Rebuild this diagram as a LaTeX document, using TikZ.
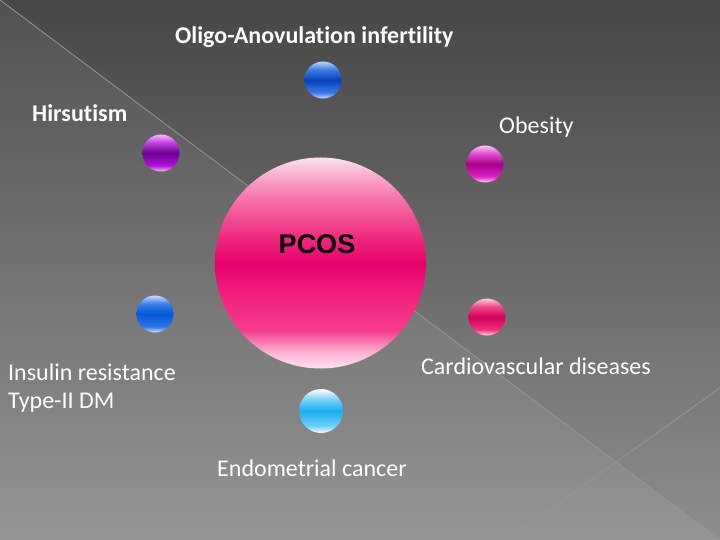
\documentclass[tikz,border=0pt]{standalone}
\usepackage{fontspec}
\setmainfont{Carlito}[Ligatures=NoCommon]
\newfontfamily\pcosfont{Liberation Sans}
\usepackage{tikz}
\usetikzlibrary{positioning}

\definecolor{bgTop}{HTML}{474747}
\definecolor{bgBot}{HTML}{8E8E8E}
\definecolor{lineC}{HTML}{959595}

% name, top, upper, mid, lower, bottom
\newcommand{\ballshade}[6]{%
  \pgfdeclareverticalshading{#1}{100bp}{color(0bp)=(#6); color(25bp)=(#6);
    color(33bp)=(#5); color(50bp)=(#4); color(64bp)=(#3); color(75bp)=(#2);
    color(100bp)=(#2)}}

\definecolor{obT}{HTML}{B8D4FF}\definecolor{obU}{HTML}{3D7BE6}\definecolor{obM}{HTML}{0840B8}
\definecolor{obL}{HTML}{3A78E8}\definecolor{obB}{HTML}{C0DCFF}
\definecolor{huT}{HTML}{F4B8FF}\definecolor{huU}{HTML}{C040E0}\definecolor{huM}{HTML}{6A0090}
\definecolor{huL}{HTML}{B010D8}\definecolor{huB}{HTML}{F8C0FF}
\definecolor{esT}{HTML}{FFC0F4}\definecolor{esU}{HTML}{E050D0}\definecolor{esM}{HTML}{A8008A}
\definecolor{esL}{HTML}{E020C8}\definecolor{esB}{HTML}{FFD0F8}
\definecolor{cdT}{HTML}{FFC8DC}\definecolor{cdU}{HTML}{F04888}\definecolor{cdM}{HTML}{D00058}
\definecolor{cdL}{HTML}{F03080}\definecolor{cdB}{HTML}{FFD8E8}
\definecolor{irT}{HTML}{C8DCFF}\definecolor{irU}{HTML}{3C80EA}\definecolor{irM}{HTML}{0058D8}
\definecolor{irL}{HTML}{2F76E6}\definecolor{irB}{HTML}{D0E4FF}
\definecolor{ecT}{HTML}{FFFFFF}\definecolor{ecU}{HTML}{80D4FA}\definecolor{ecM}{HTML}{18ACEF}
\definecolor{ecL}{HTML}{70D0FA}\definecolor{ecB}{HTML}{FFFFFF}

\ballshade{oligoshade}{obT}{obU}{obM}{obL}{obB}
\ballshade{hirsshade}{huT}{huU}{huM}{huL}{huB}
\ballshade{obesshade}{esT}{esU}{esM}{esL}{esB}
\ballshade{cardshade}{cdT}{cdU}{cdM}{cdL}{cdB}
\ballshade{insushade}{irT}{irU}{irM}{irL}{irB}
\ballshade{endoshade}{ecT}{ecU}{ecM}{ecL}{ecB}

\definecolor{pc0}{HTML}{FFE4F0}\definecolor{pc1}{HTML}{FBB0D2}\definecolor{pc2}{HTML}{F53C8C}
\definecolor{pc3}{HTML}{F3237F}\definecolor{pc4}{HTML}{E6006A}\definecolor{pc5}{HTML}{EE2A80}
\definecolor{pc6}{HTML}{F4609E}\definecolor{pc7}{HTML}{F898C2}\definecolor{pc8}{HTML}{FDE2EE}
\pgfdeclareverticalshading{pcosshade}{100bp}{color(0bp)=(pc0); color(25bp)=(pc0);
  color(29bp)=(pc1); color(34bp)=(pc2); color(42bp)=(pc3); color(50bp)=(pc4);
  color(56bp)=(pc5); color(63bp)=(pc6); color(69bp)=(pc7); color(75bp)=(pc8);
  color(100bp)=(pc8)}

\begin{document}
\begin{tikzpicture}[x=1bp, y=-1bp,
  ball/.style={circle, inner sep=0pt, minimum size=37bp},
  label/.style={text=white, inner sep=0pt, font=\fontsize{24bp}{28bp}\selectfont},
  boldlabel/.style={label, font=\fontsize{24bp}{28bp}\selectfont\bfseries}]

\useasboundingbox (0,0) rectangle (720,540);
\fill[top color=bgTop, bottom color=bgBot] (0,0) rectangle (720,540);
\fill[white, opacity=0.06] (0,0) -- (720,540) -- (0,540) -- cycle;
\draw[lineC, line width=0.8bp] (0,0) -- (720,540);
\draw[lineC, line width=0.8bp] (720,388) -- (507,540);

\node[circle, inner sep=0pt, minimum size=211bp, shading=pcosshade] (pcos) at (320.5,263) {};
\node[inner sep=0pt, font=\pcosfont\fontsize{27bp}{30bp}\selectfont\bfseries] (pcosText) at (317,244) {PCOS};

\node[ball, shading=oligoshade] (oligoBall) at (323,80) {};
\node[ball, shading=hirsshade] (hirsBall) at (161,153) {};
\node[ball, shading=obesshade] (obesBall) at (485,164) {};
\node[ball, shading=cardshade] (cardBall) at (487,317) {};
\node[ball, shading=insushade] (insuBall) at (155,314) {};
\node[ball, minimum size=44bp, shading=endoshade] (endoBall) at (321,411) {};

\node[boldlabel, anchor=base west] (oligo) at (175,44) {Oligo-Anovulation infertility};
\node[boldlabel, anchor=base west] (hirs) at (32,122) {Hirsutism};
\node[label, anchor=base west] (obes) at (499,134) {Obesity};
\node[label, anchor=base west] (card) at (421,374) {Cardiovascular diseases};
\node[label, anchor=base west] (insu) at (8,380) {Insulin resistance};
\node[label, anchor=base west] (type) at (8,408) {Type-II DM};
\node[label, anchor=base west] (endo) at (217,476) {Endometrial cancer};

\end{tikzpicture}
\end{document}
